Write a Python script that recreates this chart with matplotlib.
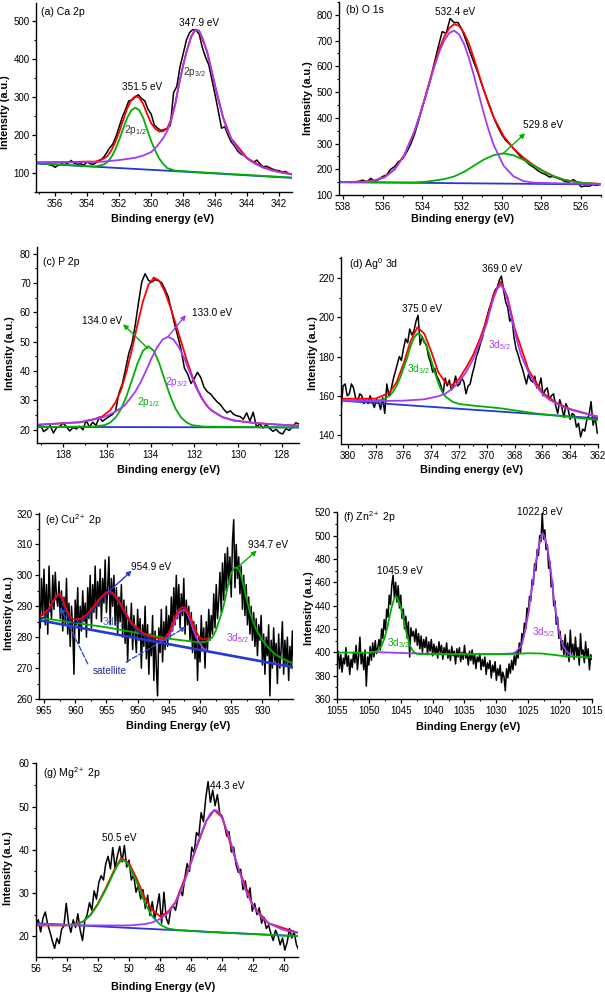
import numpy as np
import matplotlib
matplotlib.use('Agg')
import matplotlib.pyplot as plt
from matplotlib.ticker import MultipleLocator

plt.rcParams['font.family'] = ['Liberation Sans', 'DejaVu Sans']
plt.rcParams['mathtext.default'] = 'regular'

RED = '#ff0000'
GREEN = '#00b000'
PURPLE = '#a23cf2'
BLUE = '#2638d4'
NAVY = '#1c2c9c'

# ---------------- (a) Ca 2p ----------------
a_raw = [128, 126, 124, 127, 122, 120, 115, 121, 124, 122,
         126, 133, 125, 123, 124, 121, 129, 124, 123, 128,
         133, 140, 152, 166, 176, 196, 222, 248, 268, 290,
         292, 300, 306, 296, 290, 268, 255, 226, 218, 212,
         214, 218, 226, 312, 328, 380, 414, 450, 470, 478,
         476, 466, 430, 405, 385, 345, 305, 262, 218, 222,
         200, 182, 172, 158, 150, 146, 140, 132, 128, 134,
         124, 116, 118, 114, 110, 107, 106, 102, 104, 98, 96]
a_bg_x = [357.2, 349.0, 341.2]
a_bg_y = [125, 106, 87]
a_g_x = [357.2, 354.0, 353.5, 353.0, 352.75, 352.5, 352.25, 352.0, 351.75, 351.5,
         351.25, 351.0, 350.75, 350.5, 350.25, 350.0, 349.75, 349.5, 349.25, 349.0,
         348.5, 348.0, 347.0, 341.2]
a_g_y = [126, 118, 117, 122, 128, 141, 161, 187, 217, 245,
         265, 272, 266, 245, 214, 184, 159, 138, 124, 113,
         106, 105, 102, 88]
a_p_x = [357.2, 356.0, 355.0, 354.0, 353.5, 353.0, 352.5, 352.0, 351.5, 351.0,
         350.5, 350.0, 349.75, 349.5, 349.25, 349.0, 348.75, 348.5, 348.25, 348.0,
         347.75, 347.5, 347.25, 347.0, 346.75, 346.5, 346.25, 346.0, 345.75, 345.5,
         345.25, 345.0, 344.5, 344.0, 343.5, 343.0, 342.5, 342.0, 341.2]
a_p_y = [127, 128, 128, 129, 129, 130, 132, 134, 137, 140,
         146, 155, 165, 178, 192, 210, 238, 280, 335, 383,
         425, 458, 476, 474, 452, 418, 375, 328, 283, 245,
         213, 190, 158, 138, 124, 114, 107, 102, 96]
a_r_x = [357.2, 355.0, 354.0, 353.5, 353.0, 352.75, 352.5, 352.25, 352.0, 351.75,
         351.5, 351.25, 351.0, 350.75, 350.5, 350.25, 350.0, 349.75, 349.5, 349.25,
         349.0, 348.75, 348.5, 348.25, 348.0, 347.75, 347.5, 347.25, 347.0, 346.5,
         346.0, 345.5, 345.0, 344.0, 343.0, 342.0, 341.2]
a_r_y = [128, 129, 130, 130, 137, 144, 159, 181, 208, 240,
         270, 292, 302, 299, 282, 255, 231, 217, 209, 210,
         217, 242, 282, 336, 385, 426, 460, 478, 475, 419,
         329, 246, 191, 139, 115, 103, 97]

# ---------------- (b) O 1s ----------------
b_raw = [152, 150, 152, 149, 151, 153, 158,
         150, 165, 152, 160, 172, 178, 200, 210, 230, 240,
         265, 295, 335, 385, 440, 492, 545, 612, 675, 735,
         728, 786, 770, 770, 742, 700, 655, 615, 575, 528,
         485, 445, 400, 365, 335, 312, 298, 280, 262, 245,
         232, 218, 208, 196, 186, 180, 170, 172, 166, 160,
         152, 150, 160, 150, 132, 135, 134, 140, 138, 142]
b_bg_x = [538.2, 525.0]
b_bg_y = [150, 141]
b_g_x = [538.2, 535.0, 534.4, 533.9, 533.4, 532.9, 532.4, 531.9, 531.4, 530.9,
         530.4, 529.9, 529.4, 528.9, 528.4, 527.9, 527.4, 526.9, 526.4, 525.9, 525.0]
b_g_y = [150, 149, 149, 151, 156, 162, 172, 190, 214, 238,
         255, 262, 254, 237, 214, 192, 173, 160, 152, 147, 143]
b_p_x = [538.2, 537.4, 536.9, 536.4, 535.9, 535.4, 534.9, 534.4, 534.15, 533.9,
         533.65, 533.4, 533.15, 532.9, 532.65, 532.4, 532.15, 531.9, 531.65, 531.4,
         531.15, 530.9, 530.65, 530.4, 529.9, 529.4, 528.9, 528.4, 527.4, 525.0]
b_p_y = [150, 150, 151, 156, 169, 199, 255, 346, 404, 467,
         533, 597, 655, 700, 729, 739, 724, 687, 632, 563,
         489, 416, 350, 293, 213, 172, 154, 148, 146, 142]
b_r_x = [538.2, 536.9, 536.4, 535.9, 535.4, 534.9, 534.4, 534.15, 533.9, 533.65,
         533.4, 533.15, 532.9, 532.65, 532.4, 532.15, 531.9, 531.65, 531.4, 531.15,
         530.9, 530.65, 530.4, 529.9, 529.4, 528.9, 528.4, 527.9, 527.4, 526.9,
         526.4, 525.9, 525.0]
b_r_y = [150, 152, 157, 170, 200, 257, 347, 406, 470, 539,
         605, 666, 714, 748, 764, 757, 730, 687, 630, 568,
         507, 450, 401, 328, 280, 245, 216, 193, 174, 160,
         153, 147, 143]

# ---------------- (c) P 2p ----------------
c_raw = [20.5, 21.8, 19.4, 20.2, 21.5, 18.9, 20.8, 21.2, 22.3, 21.0,
         19.6, 20.8, 20.3, 21.2, 20.0, 23.2, 21.0, 22.6, 21.5, 24.3,
         22.9, 23.8, 24.5, 25.2, 26.5, 32.5, 35.5, 40.5, 46.0, 49.5,
         55.8, 63.5, 70.5, 73.2, 71.0, 70.3, 71.2, 70.8, 70.2, 68.0,
         65.5, 61.0, 56.0, 51.8, 47.2, 41.0, 39.0, 35.8, 37.5, 39.6,
         37.8, 34.5, 33.0, 32.2, 30.8, 29.5, 28.6, 27.0, 25.8, 26.5,
         25.3, 24.8, 24.5, 23.6, 25.8, 23.0, 26.0, 21.0, 22.0, 20.6,
         21.8, 20.5, 19.5, 20.2, 19.0, 18.6, 20.4, 19.8, 21.0, 22.4, 22.0]
c_bg_x = [139.2, 127.2]
c_bg_y = [21.0, 20.8]
c_g_x = [139.2, 136.6, 136.1, 135.85, 135.6, 135.35, 135.1, 134.85, 134.6, 134.35,
         134.1, 133.85, 133.6, 133.35, 133.1, 132.85, 132.6, 132.35, 132.1, 131.6, 127.2]
c_g_y = [21.0, 21.1, 21.6, 22.5, 24.2, 27.1, 31.5, 37.0, 42.6, 46.9,
         48.5, 46.9, 42.6, 37.0, 31.5, 27.1, 24.2, 22.5, 21.6, 21.1, 20.8]
c_p_x = [139.2, 137.2, 136.2, 135.7, 135.2, 134.95, 134.7, 134.45, 134.2, 133.95,
         133.7, 133.45, 133.2, 132.95, 132.7, 132.45, 132.2, 131.95, 131.7, 131.45,
         131.2, 130.7, 130.2, 129.2, 128.2, 127.2]
c_p_y = [21.7, 22.6, 24.2, 25.8, 28.2, 30.5, 33.0, 36.3, 40.2, 44.5,
         48.1, 50.8, 51.7, 50.8, 48.1, 44.3, 39.6, 35.0, 31.2, 28.4,
         26.5, 24.3, 23.2, 22.3, 21.8, 21.4]
c_r_x = [139.2, 137.2, 136.6, 136.2, 135.85, 135.6, 135.35, 135.1, 134.85, 134.6,
         134.35, 134.1, 133.85, 133.6, 133.35, 133.1, 132.85, 132.6, 132.35, 132.1,
         131.85, 131.6, 131.35, 131.1, 130.7, 130.2, 129.2, 128.2, 127.2]
c_r_y = [21.7, 22.6, 23.6, 24.6, 26.7, 29.4, 33.6, 39.9, 47.5, 55.9,
         63.7, 69.4, 71.9, 70.8, 67.2, 62.0, 56.1, 50.0, 43.9, 38.4,
         33.8, 30.2, 27.6, 26.1, 24.3, 23.2, 22.3, 21.8, 21.4]

# ---------------- (d) Ag0 3d ----------------
d_raw = [152, 165, 166, 160, 161, 166, 164, 159, 157, 161,
         160, 156, 158, 156, 160, 157, 154, 158, 157, 153,
         159, 151, 166, 160, 163, 168, 172, 176, 180, 178,
         184, 189, 187, 194, 191, 193, 198, 201, 186, 190,
         187, 186, 180, 177, 172, 174, 170, 168, 165, 161,
         169, 165, 168, 163, 165, 170, 165, 166, 169, 167,
         161, 165, 166, 171, 175, 180, 183, 187, 190, 196,
         200, 204, 207, 211, 214, 215, 219, 221, 214, 208,
         205, 198, 200, 190, 184, 181, 177, 174, 170, 166,
         171, 168, 167, 170, 164, 165, 169, 160, 163, 164,
         158, 160, 161, 155, 151, 158, 154, 149, 156, 153,
         148, 151, 150, 144, 146, 139, 143, 142, 148, 150,
         157, 145, 149, 141]
d_bg_x = [380.5, 362.0]
d_bg_y = [157.5, 148.5]
d_g_x = [380.5, 378.0, 377.5, 377.0, 376.75, 376.5, 376.25, 376.0, 375.75, 375.5,
         375.25, 375.0, 374.75, 374.5, 374.25, 374.0, 373.75, 373.5, 373.25, 373.0,
         372.5, 372.0, 371.0, 369.0, 366.5, 362.0]
d_g_y = [157.8, 157.5, 158.0, 160.0, 162.0, 165.0, 169.0, 174.0, 179.0, 185.0,
         189.5, 191.7, 191.0, 188.0, 183.5, 178.0, 172.0, 166.5, 162.5, 159.8,
         157.0, 155.8, 155.0, 153.6, 151.0, 147.6]
d_p_x = [380.5, 378.0, 376.0, 374.5, 373.5, 373.0, 372.5, 372.0, 371.5, 371.0,
         370.5, 370.0, 369.75, 369.5, 369.25, 369.0, 368.75, 368.5, 368.25, 368.0,
         367.75, 367.5, 367.0, 366.5, 366.0, 365.5, 365.0, 364.5, 364.0, 363.5,
         362.5, 362.0]
d_p_y = [157.5, 157.3, 157.5, 158.2, 159.7, 161.0, 163.5, 167.0, 172.0, 178.5,
         187.0, 197.0, 204.0, 210.0, 214.5, 216.5, 214.0, 208.5, 200.5, 193.0,
         186.0, 180.0, 172.0, 165.5, 161.0, 158.0, 156.0, 154.3, 153.0, 152.0,
         150.2, 149.3]
d_r_x = [380.5, 378.0, 377.0, 376.5, 376.0, 375.5, 375.0, 374.5, 374.0, 373.5,
         373.0, 372.5, 372.0, 371.5, 371.0, 370.5, 370.0, 369.5, 369.0, 368.5,
         368.0, 367.0, 366.0, 365.0, 364.0, 362.0]
d_r_y = [158.5, 158.5, 161.6, 166.9, 176.2, 187.7, 194.9, 191.6, 182.5, 172.1,
         166.9, 165.5, 168.5, 174.3, 180.6, 189.0, 198.9, 211.8, 218.2, 210.0,
         194.4, 173.1, 161.6, 156.4, 153.2, 149.3]

# ---------------- (e) Cu2+ 2p ----------------
e_raw = [294, 283, 299, 287, 302, 284, 297, 281, 303, 291,
         286, 300, 289, 301, 293, 290, 298, 286, 295, 282,
         293, 284, 299, 281, 291, 277, 290, 283, 268, 292,
         284, 296, 278, 290, 282, 295, 285, 291, 280, 296,
         286, 300, 283, 297, 288, 303, 286, 298, 290, 302,
         285, 299, 291, 305, 288, 296, 306, 284, 299, 290,
         300, 284, 296, 281, 293, 285, 297, 280, 292, 278,
         290, 272, 286, 280, 291, 276, 287, 281, 275, 289,
         279, 286, 270, 284, 277, 290, 273, 284, 268, 281,
         274, 287, 266, 282, 270, 261, 283, 275, 289, 272,
         285, 276, 290, 277, 287, 280, 293, 282, 296, 284,
         300, 286, 297, 283, 294, 287, 299, 281, 292, 284,
         290, 279, 288, 275, 285, 273, 284, 266, 280, 272,
         287, 276, 283, 270, 285, 276, 289, 279, 287, 281,
         294, 283, 297, 286, 292, 301, 288, 304, 292, 307,
         295, 309, 297, 306, 293, 311, 318, 296, 310, 299,
         306, 294, 303, 289, 300, 287, 297, 284, 293, 281,
         290, 279, 288, 277, 286, 274, 284, 279, 287, 271,
         281, 268, 280, 274, 284, 261, 279, 270, 283, 272,
         278, 265, 281, 270, 276, 285, 268, 279, 271, 280,
         266, 277, 270, 282, 269]
e_bg_x = [965.8, 925.1]
e_bg_y = [285.5, 270.3]
e_g_x = [965.8, 955.0, 945.0, 940.0, 939.0, 938.0, 937.5, 937.0, 936.5, 936.0,
         935.5, 935.0, 934.5, 934.0, 933.5, 933.0, 932.5, 932.0, 931.5, 931.0,
         930.0, 929.0, 928.0, 927.0, 926.0, 925.1]
e_g_y = [286.3, 283.2, 279.5, 278.3, 278.5, 280.0, 282.0, 285.0, 288.0, 292.0,
         297.0, 300.8, 302.5, 302.4, 300.5, 296.5, 292.0, 288.0, 285.0, 282.5,
         279.0, 276.5, 274.5, 273.3, 272.3, 271.5]
e_n_x = [965.8, 965.0, 964.2, 963.6, 963.0, 962.5, 962.0, 961.5, 961.0, 960.5,
         960.0, 959.0, 958.0, 957.0, 956.0, 955.0, 954.5, 954.0, 953.0, 952.0,
         951.0, 950.0, 949.0, 948.0, 947.0, 946.0]
e_n_y = [286.0, 286.4, 288.3, 291.0, 293.0, 293.4, 291.5, 288.3, 286.0, 285.0,
         284.6, 285.2, 286.8, 289.2, 292.0, 293.8, 294.2, 293.8, 291.2, 287.5,
         284.2, 282.0, 280.5, 279.5, 278.8, 278.5]
e_p_x = [946.5, 946.0, 945.5, 945.0, 944.5, 944.0, 943.5, 943.0, 942.5, 942.0,
         941.5, 941.0, 940.5, 940.0, 939.5, 939.2]
e_p_y = [279.2, 279.0, 279.2, 280.2, 282.3, 285.2, 287.5, 288.6, 288.8, 287.6,
         285.0, 282.0, 279.6, 277.8, 276.5, 276.0]
e_r_x = [965.8, 965.0, 964.2, 963.6, 963.0, 962.5, 962.0, 961.5, 961.0, 960.5,
         960.0, 959.0, 958.0, 957.0, 956.0, 955.0, 954.5, 954.0, 953.0, 952.0,
         951.0, 950.0, 949.0, 948.0, 947.0, 946.0, 945.5, 945.0, 944.5, 944.0,
         943.5, 943.0, 942.5, 942.0, 941.5, 941.0, 940.5, 940.0, 939.5, 939.0, 938.8]
e_r_y = [286.8, 287.5, 289.3, 291.5, 293.5, 294.0, 292.5, 289.5, 287.3, 286.0,
         285.7, 286.0, 287.6, 290.0, 292.7, 294.5, 294.8, 294.4, 291.8, 288.0,
         284.8, 282.7, 281.2, 280.3, 279.7, 279.5, 280.0, 281.5, 283.8, 286.5,
         288.5, 289.6, 289.7, 288.6, 286.2, 283.6, 281.3, 279.8, 279.2, 279.4, 279.6]

# ---------------- (f) Zn2+ 2p ----------------
f_raw = [392, 401, 386, 398, 383, 395, 390, 404, 388, 397,
         381, 394, 387, 400, 391, 406, 385, 397, 413, 390,
         399, 385, 402, 371, 396, 389, 405, 393, 408, 396,
         410, 399, 404, 411, 402, 420, 412, 428, 419, 437,
         430, 449, 441, 458, 466, 447, 460, 443, 457, 438,
         449, 429, 437, 420, 431, 412, 426, 396, 421, 414,
         418, 409, 420, 406, 416, 403, 414, 400, 411, 404,
         413, 398, 409, 401, 411, 397, 407, 399, 405, 395,
         409, 400, 406, 394, 404, 398, 408, 395, 402, 393,
         405, 397, 401, 390, 403, 396, 404, 392, 400, 394,
         406, 395, 399, 389, 401, 393, 402, 390, 398, 386,
         396, 392, 399, 385, 394, 388, 396, 381, 391, 386,
         393, 378, 389, 383, 392, 376, 386, 380, 389, 374,
         383, 379, 367, 386, 378, 390, 382, 393, 385, 397,
         389, 401, 395, 408, 400, 416, 411, 425, 420, 438,
         432, 448, 444, 462, 458, 476, 470, 488, 483, 500,
         495, 519, 497, 505, 488, 492, 472, 478, 456, 461,
         440, 444, 424, 430, 412, 418, 402, 410, 398, 415,
         396, 408, 392, 419, 399, 407, 394, 413, 397, 404,
         389, 416, 398, 402, 391, 409, 395, 403, 385, 398, 394]
f_g_x = [1055, 1050, 1049, 1048.5, 1048, 1047.5, 1047, 1046.5, 1046, 1045.75,
         1045.5, 1045, 1044.5, 1044, 1043.5, 1043, 1042.5, 1042, 1035, 1030,
         1027, 1025, 1023, 1021, 1019, 1017, 1015]
f_g_y = [399.8, 399.6, 400.2, 402.0, 405.5, 413.0, 424.0, 437.0, 446.5, 448.0,
         446.5, 439.0, 427.0, 414.0, 405.0, 400.5, 398.8, 398.4, 398.3, 398.4,
         398.6, 399.2, 399.0, 397.8, 396.5, 396.0, 395.6]
f_p_x = [1049.8, 1047, 1044, 1041, 1035, 1030, 1027.5, 1027, 1026.5, 1026,
         1025.5, 1025, 1024.5, 1024, 1023.5, 1023, 1022.75, 1022.5, 1022, 1021.5,
         1021, 1020.5, 1020, 1019.5, 1019, 1018.5, 1018]
f_p_y = [400.4, 399.8, 399.3, 398.8, 398.4, 398.4, 399.0, 400.0, 403.0, 406.5,
         418.0, 433.0, 452.0, 471.0, 487.0, 499.0, 502.0, 500.0, 490.0, 472.0,
         447.0, 428.0, 413.0, 405.0, 401.0, 398.5, 397.2]

# ---------------- (g) Mg2+ 2p ----------------
g_raw = [22.5, 23.8, 21.0, 24.2, 25.6, 22.8, 21.0, 19.0, 17.2, 19.5,
         18.3, 21.6, 22.4, 27.6, 23.0, 20.9, 23.8, 22.0, 25.2, 21.4,
         19.0, 23.6, 25.0, 27.8, 26.0, 30.5, 28.6, 32.4, 34.0, 33.0,
         36.8, 38.5, 35.6, 40.5, 35.8, 38.6, 40.8, 37.2, 41.0, 36.0,
         37.6, 33.0, 34.2, 30.2, 31.8, 28.6, 30.8, 26.4, 29.5, 24.8,
         28.0, 24.0, 26.6, 29.8, 23.0, 30.2, 24.2, 22.8, 26.5, 27.0,
         26.0, 28.8, 30.6, 29.4, 33.6, 36.8, 35.0, 40.6, 39.2, 44.0,
         43.2, 48.6, 46.5, 52.0, 55.8, 51.0, 53.8, 50.2, 52.8, 48.5,
         47.8, 46.0, 43.2, 44.2, 39.5, 40.6, 36.6, 34.8, 35.5, 30.8,
         32.8, 29.0, 31.2, 25.8, 27.6, 25.0, 26.6, 23.0, 24.4, 21.8,
         22.6, 20.6, 19.0, 21.4, 20.2, 18.0, 19.6, 16.8, 18.6, 21.8,
         19.6, 21.0, 18.0, 16.8]
g_bg_x = [56.0, 39.1]
g_bg_y = [23.0, 20.0]
g_g_x = [56, 54, 53.5, 53, 52.5, 52, 51.5, 51, 50.75, 50.5,
         50.25, 50, 49.5, 49, 48.5, 48, 47.5, 47, 45, 42, 39.1]
g_g_y = [22.9, 22.6, 22.7, 23.3, 24.8, 27.4, 30.8, 34.6, 36.4, 37.6,
         37.4, 36.3, 32.5, 27.9, 24.6, 22.7, 21.8, 21.5, 21.0, 20.5, 20.0]
g_p_x = [56, 52, 50, 49, 48.5, 48, 47.5, 47, 46.5, 46,
         45.5, 45, 44.75, 44.5, 44.25, 44, 43.5, 43, 42.5, 42,
         41.5, 41, 40, 39.1]
g_p_y = [22.6, 22.5, 22.5, 22.8, 23.2, 24.0, 25.3, 27.8, 31.8, 37.0,
         42.4, 46.8, 48.4, 49.2, 48.9, 47.5, 42.6, 36.3, 30.8, 27.0,
         24.6, 23.0, 21.4, 20.8]
g_r_x = [56, 54, 53, 52.5, 52, 51.5, 51, 50.5, 50, 49.5,
         49, 48.5, 48, 47.5, 47, 46, 45, 44.5, 44, 43,
         42, 41, 39.1]
g_r_y = [22.5, 22.5, 23.3, 24.9, 27.6, 31.1, 35.0, 38.1, 36.9, 33.3,
         28.95, 26.1, 24.6, 25.6, 27.9, 37.1, 46.8, 49.2, 47.5, 36.3,
         27.0, 23.0, 20.8]


def style(ax, xlim, ylim, xstep, ystep, xlabel, xlab, ylab):
    ax.set_xlim(*xlim)
    ax.set_ylim(*ylim)
    ax.xaxis.set_major_locator(MultipleLocator(xstep))
    ax.xaxis.set_minor_locator(MultipleLocator(xstep / 2))
    ax.yaxis.set_major_locator(MultipleLocator(ystep))
    ax.yaxis.set_minor_locator(MultipleLocator(ystep / 2))
    for s in ['top', 'right']:
        ax.spines[s].set_visible(False)
    for s in ['left', 'bottom']:
        ax.spines[s].set_linewidth(1.0)
    ax.tick_params(which='major', direction='out', length=3, width=0.9, labelsize=7)
    ax.tick_params(which='minor', direction='out', length=1.6, width=0.8)
    ax.tick_params(axis='y', pad=1.5)
    ax.tick_params(axis='x', pad=2.2)
    ax.set_xlabel(xlabel, fontsize=7.8, fontweight='bold', va='center')
    ax.set_ylabel('Intensity (a.u.)', fontsize=7.8, fontweight='bold', va='center')
    ax.xaxis.set_label_coords(*xlab)
    ax.yaxis.set_label_coords(*ylab)


def txt(ax, fx, fy, s, color='black', ha='center', size=7.2):
    ax.text(fx, fy, s, transform=ax.transAxes, ha=ha, va='center',
            fontsize=size, color=color)


def arrow(ax, tail, head, color, ls='-'):
    ax.annotate('', xy=head, xytext=tail,
                arrowprops=dict(arrowstyle='-|>', color=color, lw=1.0,
                                linestyle=ls, mutation_scale=7,
                                shrinkA=0, shrinkB=0))


fig = plt.figure(figsize=(6.05, 9.92), dpi=100)
LW_D = 1.1
LW_F = 1.3

# (a)
ax = fig.add_axes([0.0595, 0.8065, 0.4231, 0.1905])
ax.plot(np.linspace(357.2, 341.2, len(a_raw)), a_raw, color='black', lw=LW_D)
ax.plot(a_r_x, a_r_y, color=RED, lw=LW_F)
ax.plot(a_bg_x, a_bg_y, color=BLUE, lw=LW_F)
ax.plot(a_g_x, a_g_y, color=GREEN, lw=LW_F)
ax.plot(a_p_x, a_p_y, color=PURPLE, lw=LW_F)
style(ax, (357.2, 341.2), (50, 548), 2, 100, 'Binding energy (eV)',
      (0.496, -0.143), (-0.121, 0.425))
txt(ax, 0.018, 0.952, '(a) Ca 2p', ha='left', size=7.6)
txt(ax, 0.414, 0.556, '351.5 eV')
txt(ax, 0.637, 0.896, '347.9 eV')
txt(ax, 0.617, 0.636, '2p$_{3/2}$', color='#333333')
txt(ax, 0.39, 0.328, '2p$_{1/2}$', color='#333333')

# (b)
ax = fig.add_axes([0.5603, 0.8034, 0.4331, 0.1946])
ax.plot(np.linspace(538.2, 525.0, len(b_raw)), b_raw, color='black', lw=LW_D)
ax.plot(b_r_x, b_r_y, color=RED, lw=LW_F)
ax.plot(b_bg_x, b_bg_y, color=BLUE, lw=LW_F)
ax.plot(b_g_x, b_g_y, color=GREEN, lw=LW_F)
ax.plot(b_p_x, b_p_y, color=PURPLE, lw=LW_F)
style(ax, (538.2, 525.0), (100, 850), 2, 100, 'Binding energy (eV)',
      (0.473, -0.126), (-0.118, 0.501))
txt(ax, 0.027, 0.959, '(b) O 1s', ha='left', size=7.6)
txt(ax, 0.443, 0.95, '532.4 eV')
txt(ax, 0.779, 0.363, '529.8 eV')
arrow(ax, (529.95, 260), (528.82, 340), GREEN)

# (c)
ax = fig.add_axes([0.0612, 0.5534, 0.4331, 0.1976])
ax.plot(np.linspace(139.2, 127.2, len(c_raw)), c_raw, color='black', lw=LW_D)
ax.plot(c_r_x, c_r_y, color=RED, lw=LW_F)
ax.plot(c_bg_x, c_bg_y, color=BLUE, lw=LW_F)
ax.plot(c_g_x, c_g_y, color=GREEN, lw=LW_F)
ax.plot(c_p_x, c_p_y, color=PURPLE, lw=LW_F)
style(ax, (139.2, 127.2), (15.5, 82.3), 2, 10, 'Binding energy (eV)',
      (0.5, -0.138), (-0.103, 0.459))
txt(ax, 0.023, 0.925, '(c) P 2p', ha='left', size=7.6)
txt(ax, 0.247, 0.622, '134.0 eV')
txt(ax, 0.667, 0.665, '133.0 eV')
txt(ax, 0.533, 0.313, '2p$_{3/2}$', color=PURPLE)
txt(ax, 0.425, 0.211, '2p$_{1/2}$', color=GREEN)
arrow(ax, (134.12, 47.7), (135.26, 56.0), GREEN)
arrow(ax, (133.21, 51.7), (132.38, 59.1), PURPLE)

# (d)
ax = fig.add_axes([0.5636, 0.5524, 0.4248, 0.1885])
ax.plot(np.linspace(380.5, 362.05, len(d_raw)), d_raw, color='black', lw=LW_D)
ax.plot(d_r_x, d_r_y, color=RED, lw=LW_F)
ax.plot(d_bg_x, d_bg_y, color=BLUE, lw=LW_F)
ax.plot(d_g_x, d_g_y, color=GREEN, lw=LW_F)
ax.plot(d_p_x, d_p_y, color=PURPLE, lw=LW_F)
style(ax, (380.5, 362.0), (135.4, 230.7), 2, 20, 'Binding energy (eV)',
      (0.506, -0.139), (-0.109, 0.487))
txt(ax, 0.031, 0.963, '(d) Ag$^0$ 3d', ha='left', size=7.6)
txt(ax, 0.316, 0.72, '375.0 eV')
txt(ax, 0.628, 0.934, '369.0 eV')
txt(ax, 0.30, 0.40, '3d$_{3/2}$', color=GREEN)
txt(ax, 0.617, 0.53, '3d$_{5/2}$', color=PURPLE)

# (e)
ax = fig.add_axes([0.0645, 0.2954, 0.4198, 0.1875])
ax.plot(np.linspace(965.8, 925.0, len(e_raw)), e_raw, color='black', lw=LW_D)
ax.plot(e_bg_x, e_bg_y, color=BLUE, lw=1.9)
ax.plot(e_g_x, e_g_y, color=GREEN, lw=LW_F)
ax.plot(e_n_x, e_n_y, color=NAVY, lw=LW_F)
ax.plot(e_p_x, e_p_y, color=PURPLE, lw=LW_F)
ax.plot(e_r_x, e_r_y, color=RED, lw=LW_F)
style(ax, (965.8, 925.1), (260, 320.2), 5, 10, 'Binding Energy (eV)',
      (0.547, -0.144), (-0.117, 0.462))
txt(ax, 0.024, 0.962, '(e) Cu$^{2+}$ 2p', ha='left', size=7.6)
txt(ax, 0.442, 0.71, '954.9 eV')
txt(ax, 0.90, 0.826, '934.7 eV')
txt(ax, 0.291, 0.414, '3d$_{3/2}$', color='#4a64e0')
txt(ax, 0.78, 0.328, '3d$_{5/2}$', color=PURPLE)
txt(ax, 0.28, 0.15, 'satellite', color=NAVY)
arrow(ax, (954.7, 294.6), (950.95, 301.5), BLUE)
arrow(ax, (934.2, 302.3), (930.9, 308.0), GREEN)
arrow(ax, (958.0, 271.4), (962.4, 289.7), '#3050d8', ls='--')
arrow(ax, (951.85, 271.9), (942.24, 283.3), '#3050d8', ls='--')

# (f)
ax = fig.add_axes([0.5570, 0.2954, 0.4215, 0.1885])
ax.plot(np.linspace(1055, 1015, len(f_raw)), f_raw, color='black', lw=LW_D)
ax.plot(f_p_x, f_p_y, color=PURPLE, lw=LW_F)
ax.plot(f_g_x, f_g_y, color=GREEN, lw=LW_F)
style(ax, (1055, 1015), (360, 520.3), 5, 20, 'Binding Energy (eV)',
      (0.514, -0.148), (-0.11, 0.487))
txt(ax, 0.024, 0.97, '(f) Zn$^{2+}$ 2p', ha='left', size=7.6)
txt(ax, 0.246, 0.686, '1045.9 eV')
txt(ax, 0.795, 1.0, '1022.8 eV')
txt(ax, 0.239, 0.301, '3d$_{3/2}$', color=GREEN)
txt(ax, 0.808, 0.355, '3d$_{5/2}$', color=PURPLE)

# (g)
ax = fig.add_axes([0.0595, 0.0353, 0.4331, 0.1956])
ax.plot(np.linspace(56.0, 39.05, len(g_raw)), g_raw, color='black', lw=LW_D)
ax.plot(g_r_x, g_r_y, color=RED, lw=LW_F)
ax.plot(g_bg_x, g_bg_y, color=BLUE, lw=LW_F)
ax.plot(g_g_x, g_g_y, color=GREEN, lw=LW_F)
ax.plot(g_p_x, g_p_y, color=PURPLE, lw=LW_F)
style(ax, (56, 39.1), (15.2, 60.1), 2, 10, 'Binding Energy (eV)',
      (0.485, -0.153), (-0.106, 0.459))
txt(ax, 0.028, 0.947, '(g) Mg$^{2+}$ 2p', ha='left', size=7.6)
txt(ax, 0.318, 0.612, '50.5 eV')
txt(ax, 0.728, 0.883, '44.3 eV')

fig.savefig('out.png', dpi=100)
